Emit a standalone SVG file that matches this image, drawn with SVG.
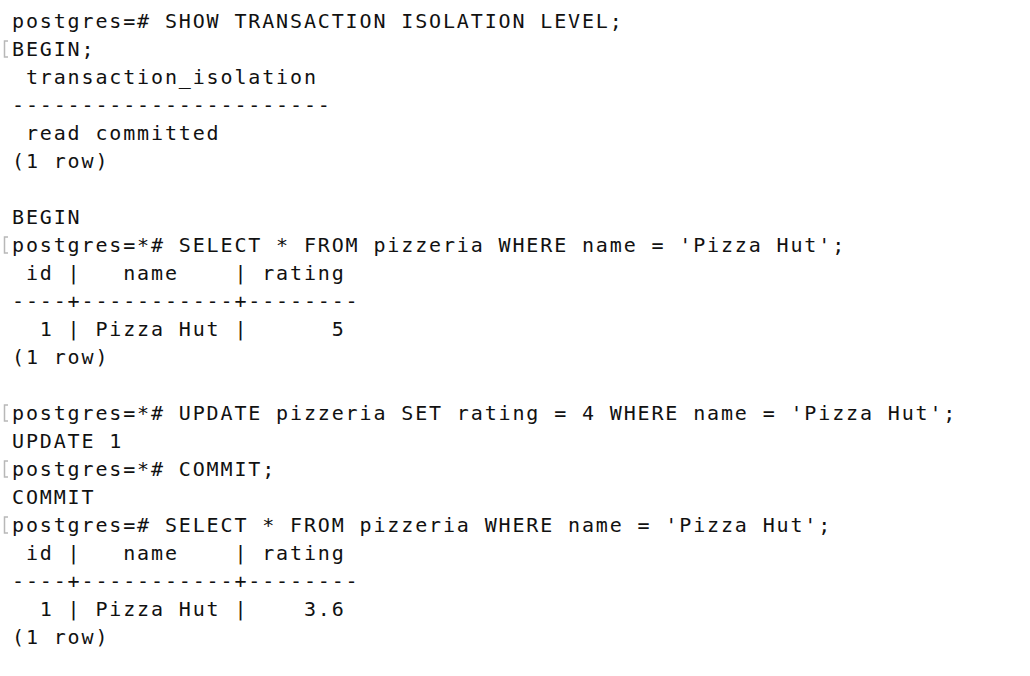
<svg xmlns="http://www.w3.org/2000/svg" width="1030" height="676" viewBox="0 0 1030 676">
<style>
text{font-family:"DejaVu Sans Mono","Liberation Mono",monospace;font-size:20px;letter-spacing:1.86px;fill:#111;white-space:pre}
.mk{fill:none;stroke:#b8b8b8;stroke-width:1.5}
</style>
<rect width="1030" height="676" fill="#fff"/>
<g id="markers">
<path class="mk" d="M8,41 H4.5 V57 H8"/>
<path class="mk" d="M8,237 H4.5 V253 H8"/>
<path class="mk" d="M8,405 H4.5 V421 H8"/>
<path class="mk" d="M8,461 H4.5 V477 H8"/>
<path class="mk" d="M8,517 H4.5 V533 H8"/>
</g>
<g id="terminal" xml:space="preserve">
<text x="12" y="28">postgres=# SHOW TRANSACTION ISOLATION LEVEL;</text>
<text x="12" y="56">BEGIN;</text>
<text x="12" y="84"> transaction_isolation</text>
<text x="12" y="112">-----------------------</text>
<text x="12" y="140"> read committed</text>
<text x="12" y="168">(1 row)</text>
<text x="12" y="224">BEGIN</text>
<text x="12" y="252">postgres=*# SELECT * FROM pizzeria WHERE name = 'Pizza Hut';</text>
<text x="12" y="280"> id |   name    | rating</text>
<text x="12" y="308">----+-----------+--------</text>
<text x="12" y="336">  1 | Pizza Hut |      5</text>
<text x="12" y="364">(1 row)</text>
<text x="12" y="420">postgres=*# UPDATE pizzeria SET rating = 4 WHERE name = 'Pizza Hut';</text>
<text x="12" y="448">UPDATE 1</text>
<text x="12" y="476">postgres=*# COMMIT;</text>
<text x="12" y="504">COMMIT</text>
<text x="12" y="532">postgres=# SELECT * FROM pizzeria WHERE name = 'Pizza Hut';</text>
<text x="12" y="560"> id |   name    | rating</text>
<text x="12" y="588">----+-----------+--------</text>
<text x="12" y="616">  1 | Pizza Hut |    3.6</text>
<text x="12" y="644">(1 row)</text>
</g>
</svg>
